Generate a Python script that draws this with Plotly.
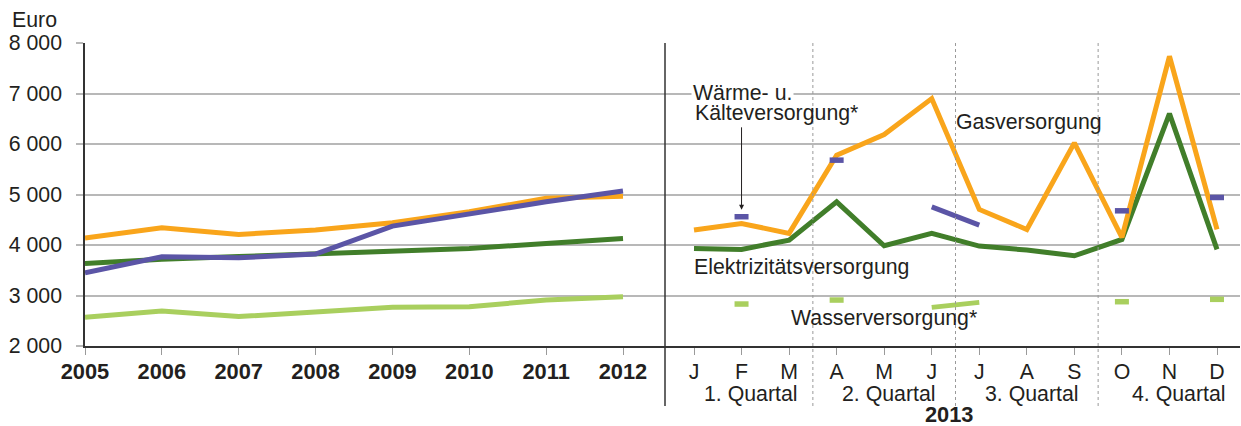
import plotly.graph_objects as go

# ---------------- data ----------------
years = [2005, 2006, 2007, 2008, 2009, 2010, 2011, 2012]
gas_years = [4140, 4340, 4210, 4295, 4440, 4660, 4925, 4965]
waerme_years = [3450, 3767, 3747, 3820, 4374, 4625, 4855, 5070]
strom_years = [3636, 3720, 3770, 3820, 3880, 3932, 4030, 4130]
wasser_years = [2570, 2692, 2582, 2680, 2765, 2778, 2910, 2975]

months = ["J", "F", "M", "A", "M", "J", "J", "A", "S", "O", "N", "D"]
month_pos = list(range(1, 13))
gas_2013 = [4295, 4427, 4230, 5778, 6188, 6900, 4704, 4308, 6022, 4150, 7737, 4308]
strom_2013 = [3932, 3913, 4097, 4855, 3985, 4230, 3978, 3900, 3786, 4110, 6603, 3913]
waerme_2013 = [None, 4560, None, 5680, None, 4756, 4394, None, None, 4677, None, 4941]
wasser_2013 = [None, 2831, None, 2910, None, 2765, 2864, None, None, 2877, None, 2924]

quarters = ["1. Quartal", "2. Quartal", "3. Quartal", "4. Quartal"]
quarter_pos = [2.2, 5.1, 8.1, 11.2]
quarter_bounds = [3.5, 6.5, 9.5]

y_ticks = [2000, 3000, 4000, 5000, 6000, 7000, 8000]
y_ticktext = ["2 000", "3 000", "4 000", "5 000", "6 000", "7 000", "8 000"]

C_GAS = "#F9A51B"
C_WAERME = "#5B55A6"
C_STROM = "#417E2A"
C_WASSER = "#A9CF5E"
FONT = "Liberation Sans, Arial, sans-serif"
FS = 21.3
FSB = 21.8
TXT = "#231F20"
LW = 5


def isolated(vals):
    out = []
    for i, v in enumerate(vals):
        prev_v = vals[i - 1] if i > 0 else None
        next_v = vals[i + 1] if i < len(vals) - 1 else None
        out.append(v if (v is not None and prev_v is None and next_v is None) else None)
    return out


fig = go.Figure()

# left panel (annual)
for vals, col in [(wasser_years, C_WASSER), (strom_years, C_STROM),
                  (gas_years, C_GAS), (waerme_years, C_WAERME)]:
    fig.add_trace(go.Scatter(x=years, y=vals, mode="lines",
                             line=dict(color=col, width=LW),
                             xaxis="x", yaxis="y", showlegend=False,
                             hoverinfo="skip"))

# right panel (monthly 2013)
for vals, col in [(wasser_2013, C_WASSER), (strom_2013, C_STROM),
                  (gas_2013, C_GAS), (waerme_2013, C_WAERME)]:
    fig.add_trace(go.Scatter(x=month_pos, y=vals, mode="lines",
                             line=dict(color=col, width=LW),
                             connectgaps=False,
                             xaxis="x2", yaxis="y", showlegend=False,
                             hoverinfo="skip"))
    iso = isolated(vals)
    if any(v is not None for v in iso):
        fig.add_trace(go.Scatter(x=month_pos, y=iso, mode="markers",
                                 marker=dict(symbol="line-ew", size=10,
                                             line=dict(color=col, width=5.5)),
                                 xaxis="x2", yaxis="y", showlegend=False,
                                 hoverinfo="skip"))

L, R, T, B = 85, 1, 43, 80
W, H = 1241, 426
pw = W - L - R
ph = H - T - B
split = (665 - L) / pw


def py(pix):
    return (H - B - pix) / ph


axis_common = dict(showgrid=False, zeroline=False, showline=True,
                   linecolor="#333333", linewidth=2,
                   ticks="outside", ticklen=7, tickcolor="#9a9a9a", tickwidth=1,
                   ticklabelstandoff=-2)

fig.update_layout(
    width=W, height=H,
    margin=dict(l=L, r=R, t=T, b=B),
    paper_bgcolor="white", plot_bgcolor="white",
    font=dict(family=FONT, size=FS, color=TXT),
    xaxis=dict(domain=[0, split], range=[2005, 2012 + 42 / 76.86],
               tickvals=years, ticktext=[str(y) for y in years],
               tickfont=dict(family=FONT, size=FSB, color=TXT, weight="bold"),
               **axis_common),
    xaxis2=dict(domain=[split, 1], range=[1 - 29 / 47.55, 12 + 23 / 47.55],
                tickvals=month_pos, ticktext=months,
                tickfont=dict(family=FONT, size=FS, color=TXT),
                anchor="y", **axis_common),
    yaxis=dict(range=[2000, 8000], tickvals=y_ticks, ticktext=y_ticktext,
               showgrid=True, gridcolor="#b8b8b8", gridwidth=1.5,
               zeroline=False, showline=True, linecolor="#333333", linewidth=1.5,
               ticks="outside", ticklen=7, tickcolor="#b8b8b8", tickwidth=1.5,
               ticklabelstandoff=10,
               tickfont=dict(family=FONT, size=FS, color=TXT)),
)

shapes = [dict(type="line", xref="paper", yref="paper", x0=split, x1=split,
               y0=py(406), y1=1, line=dict(color="#333333", width=1.5))]
for qb in quarter_bounds:
    shapes.append(dict(type="line", xref="x2", yref="paper", x0=qb, x1=qb,
                       y0=py(406), y1=1,
                       line=dict(color="#9a9a9a", width=1, dash="dot")))
fig.update_layout(shapes=shapes)

ann = []
ann.append(dict(text="Euro", xref="paper", yref="paper", x=(10 - L) / pw, y=py(20),
                xanchor="left", yanchor="middle", showarrow=False,
                font=dict(size=FS, color=TXT)))
for q, qp in zip(quarters, quarter_pos):
    ann.append(dict(text=q, xref="x2", yref="paper", x=qp, y=py(394),
                    xanchor="center", yanchor="middle", showarrow=False,
                    font=dict(size=FS, color=TXT)))
ann.append(dict(text="<b>2013</b>", xref="x2", yref="paper", x=6.38, y=py(414),
                xanchor="center", yanchor="middle", showarrow=False,
                font=dict(size=FSB, color=TXT)))
ann.append(dict(text="Wärme- u.", xref="x2", yref="y", x=0.93, y=7005,
                xanchor="left", yanchor="middle", showarrow=False,
                bgcolor="white", borderpad=1,
                font=dict(size=FS, color=TXT)))
ann.append(dict(text="Kälteversorgung*", xref="x2", yref="y", x=0.98, y=6610,
                xanchor="left", yanchor="middle", showarrow=False,
                font=dict(size=FS, color=TXT)))
ann.append(dict(text="", xref="x2", yref="y", x=2, y=4700,
                axref="x2", ayref="y", ax=2, ay=6360,
                showarrow=True, arrowhead=2, arrowsize=1, arrowwidth=1,
                arrowcolor="#231F20"))
ann.append(dict(text="Gasversorgung", xref="x2", yref="y", x=6.47, y=6440,
                xanchor="left", yanchor="middle", showarrow=False,
                font=dict(size=FS, color=TXT)))
ann.append(dict(text="Elektrizitätsversorgung", xref="x2", yref="y", x=0.96, y=3563,
                xanchor="left", yanchor="middle", showarrow=False,
                font=dict(size=FS, color=TXT)))
ann.append(dict(text="Wasserversorgung*", xref="x2", yref="y", x=3.0, y=2554,
                xanchor="left", yanchor="middle", showarrow=False,
                font=dict(size=FS, color=TXT)))
fig.update_layout(annotations=ann)

fig.write_html("out.html", config={"displayModeBar": False},
               post_script="document.body.style.margin='0';document.body.style.overflow='hidden';")
